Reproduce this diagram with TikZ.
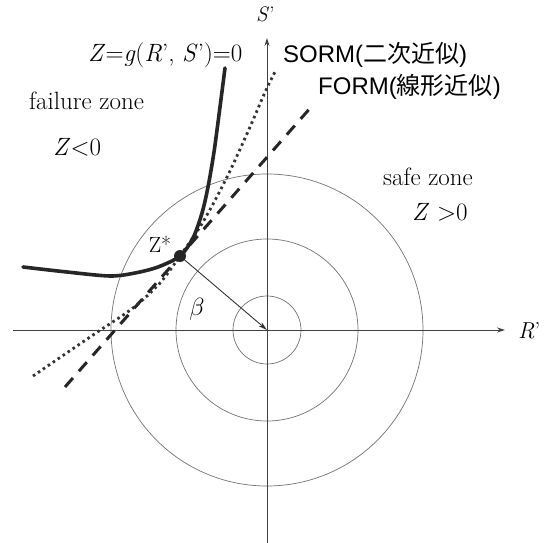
\documentclass[tikz,border=0pt]{standalone}
\usepackage{fontspec}
\setsansfont{Liberation Sans}
\newfontfamily\sansx{Liberation Sans}
\newfontfamily\cjk{Noto Sans CJK JP}
\usetikzlibrary{arrows.meta}
\tikzset{
  axis/.style={draw=black!75, line width=0.9pt, -{Stealth[length=8pt,width=5pt]}},
  ring/.style={draw=black!55, line width=0.7pt},
  failcurve/.style={draw=black!85, line width=3.6pt, line cap=round},
  sormline/.style={draw=black!80, line width=2.8pt, dash pattern=on 2.6pt off 3.4pt},
  formline/.style={draw=black!85, line width=3pt, dash pattern=on 12pt off 9pt},
  betaarrow/.style={draw=black!80, line width=0.9pt, -{Stealth[length=9pt,width=5pt]}},
  serif/.style={font=\rmfamily\fontsize{25}{30}\selectfont\addfontfeatures{FakeBold=0.8}, inner sep=0pt, anchor=base west},
  sanslbl/.style={font=\sansx\fontsize{24}{28}\selectfont, inner sep=0pt, anchor=base west},
}
\begin{document}
\begin{tikzpicture}[x=1pt,y=-1pt]
\useasboundingbox (0,0) rectangle (549,543);
\fill[white] (0,0) rectangle (549,543);
% coordinates
\coordinate (O) at (267,330);
\coordinate (xl) at (13,330);
\coordinate (xr) at (505,330);
\coordinate (yb) at (267,543);
\coordinate (yt) at (267,38);
\coordinate (Zs) at (180,256);
\coordinate (f1) at (65,387);
\coordinate (f2) at (312,106);
% circles
\draw[ring] (O) circle[radius=34pt];
\draw[ring] (O) circle[radius=91pt];
\draw[ring] (O) circle[radius=156pt];
% axes
\draw[axis] (xl) -- (xr);
\draw[axis] (yb) -- (yt);
% FORM line
\draw[formline] (f1) -- (f2);
% SORM curve
\draw[sormline] plot[smooth] coordinates {(33,376) (93,335) (133,308) (160,283) (180,256) (198,230) (212,206) (230,171) (250,127) (266,90) (276,70)};
% failure curve
\draw[failcurve] plot[smooth] coordinates {(23,267) (67,272) (110,276) (135,273) (158,267) (180,256) (193,238) (202,213) (208,187) (214,152) (220,107) (225,68)};
% beta arrow
\draw[betaarrow] (Zs) -- (O);
\fill[black!85] (Zs) circle[radius=6pt];
% labels
\node[serif] (lg) at (88,62) {\textit{Z}=\textit{g}(\textit{R}’, \textit{S}’)=0};
\node[sanslbl] (ls) at (283,63) {SORM({\cjk 二次近似})};
\node[sanslbl] (lf) at (318,95) {FORM({\cjk 線形近似})};
\node[serif] (lfz) at (29,110) {failure zone};
\node[serif] (lfz2) at (53,155) {\textit{Z}<0};
\node[serif] (lsz) at (383,185) {safe zone};
\node[serif] (lsz2) at (412,220) {\textit{Z} >0};
\node[font=\rmfamily\fontsize{22}{24}\selectfont\addfontfeatures{FakeBold=0.8}, inner sep=0pt] (lzs) at (160,244) {Z*};
\node[font=\fontsize{28}{30}\selectfont, inner sep=0pt] (lb) at (197,309) {$\beta$};
\node[serif, font=\rmfamily\fontsize{21}{24}\selectfont\addfontfeatures{FakeBold=0.8}] (lS) at (256,22) {\textit{S}’};
\node[serif, font=\rmfamily\fontsize{23}{26}\selectfont\addfontfeatures{FakeBold=0.8}] (lR) at (518,338) {\textit{R}’};
\end{tikzpicture}
\end{document}
